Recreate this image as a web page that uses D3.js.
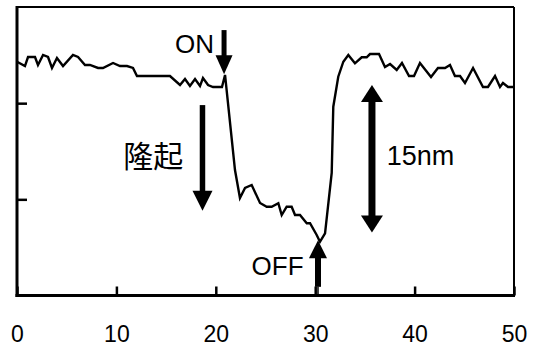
<!DOCTYPE html>
<html>
<head>
<meta charset="utf-8">
<script src="https://cdn.jsdelivr.net/npm/d3@7"></script>
<style>
  html, body { margin: 0; padding: 0; background: #fff; }
  svg { display: block; }
  text { font-family: Arial, "Liberation Sans", sans-serif; fill: #000; }
</style>
</head>
<body>
<script>
// Position along the scan (x) and height in nm (y)
const xVals = [0, 0.80, 1.11, 1.81, 2.11, 2.62, 3.12, 3.52, 4.02, 4.63, 5.63, 6.14, 6.84, 7.34, 8.15, 8.65, 9.66, 10.36, 11.07, 11.67,
  12.07, 15.39, 16.40, 16.90, 17.40, 17.91, 18.41, 18.71, 19.22, 19.72, 20.62, 20.93,
  21.93, 22.43, 22.94, 23.61, 24.45, 25.12, 25.62, 26.29, 26.63, 27.13, 27.63, 27.97, 28.47, 29.15, 29.48, 30.15, 30.48, 30.99,
  31.66, 31.82, 32.32, 32.83, 33.33, 34.00, 34.68, 35.18, 35.51, 36.42, 37.02, 37.53, 38.20, 38.73, 39.44, 39.94, 40.54,
  41.65, 42.35, 43.06, 43.56, 44.06, 44.57, 45.07, 45.88, 46.88, 47.38, 48.09, 48.59, 48.89, 49.40, 50];
const yVals = [24.31, 23.86, 24.80, 24.80, 23.97, 25.01, 24.80, 23.66, 24.70, 23.86, 25.01, 24.80, 23.97, 23.97, 23.66, 23.66, 24.18, 23.86, 23.86, 23.66,
  22.82, 22.82, 21.89, 22.51, 21.78, 22.51, 21.78, 22.62, 21.89, 21.68, 21.68, 22.93,
  13.05, 10.14, 11.18, 11.49, 9.62, 9.23, 9.23, 9.59, 8.37, 9.23, 9.23, 8.37, 8.37, 7.51, 7.51, 6.29, 5.59, 6.47,
  12.74, 19.63, 22.75, 24.31, 25.01, 24.14, 24.77, 24.77, 25.11, 25.11, 23.76, 24.07, 23.45, 24.18, 22.82, 22.82, 24.18,
  22.72, 23.66, 23.66, 23.97, 22.82, 22.82, 22.10, 23.66, 21.68, 21.68, 22.82, 21.68, 22.10, 21.68, 21.68];

const xTicks = [0, 10, 20, 30, 40, 50];
const yTicks = [10, 20];
const xDomain = [0, 50];
const yDomain = [0, 30];

// Annotations in data units
const labels = [
  { text: "ON", x: 15.9, y: 25.2, size: 26 },
  { text: "OFF", x: 23.6, y: 2.15, size: 26 },
  { text: "15nm", x: 37.2, y: 13.6, size: 27 },
  { text: "隆起", x: 10.7, y: 13.4, size: 30, cjk: true }
];
const singleArrows = [ // from (x, y0) tail to y1 tip
  { x: 20.83, y0: 27.6, y1: 23.0, w: 5, hw: 17, hl: 19 },
  { x: 30.28, y0: 0.9, y1: 5.75, w: 6, hw: 18, hl: 18 },
  { x: 18.66, y0: 19.8, y1: 8.8, w: 5.5, hw: 20, hl: 20 }
];
const doubleArrows = [
  { x: 35.71, y0: 6.55, y1: 21.9, w: 7, hw: 22, hl: 17 }
];

const W = 536, H = 347;
const m = { left: 17, right: 22, top: 7, bottom: 51.5 };

const svg = d3.select("body").append("svg").attr("width", W).attr("height", H);

const x = d3.scaleLinear().domain(xDomain).range([m.left, W - m.right]);
const y = d3.scaleLinear().domain(yDomain).range([H - m.bottom, m.top]);

// frame: thin top/right, thick left/bottom
svg.append("line").attr("x1", x(0)).attr("x2", x(50)).attr("y1", y(30)).attr("y2", y(30))
  .attr("stroke", "#000").attr("stroke-width", 2);
svg.append("line").attr("x1", x(50)).attr("x2", x(50)).attr("y1", y(30)).attr("y2", y(0))
  .attr("stroke", "#000").attr("stroke-width", 2);

// x axis
const gx = svg.append("g").attr("transform", `translate(0,${y(0)})`)
  .call(d3.axisBottom(x).tickValues(xTicks).tickFormat(d3.format("d")).tickSizeInner(-9).tickSizeOuter(0).tickPadding(30));
gx.select(".domain").remove();
gx.selectAll(".tick line").attr("stroke", "#000").attr("stroke-width", 2.5);
gx.selectAll(".tick text").attr("font-size", 23).attr("font-family", "Arial, 'Liberation Sans', sans-serif").attr("fill", "#000");

// y axis (ticks only)
const gy = svg.append("g").attr("transform", `translate(${x(0)},0)`)
  .call(d3.axisLeft(y).tickValues(yTicks).tickFormat("").tickSizeInner(-10).tickSizeOuter(0));
gy.select(".domain").remove();
gy.selectAll(".tick line").attr("stroke", "#000").attr("stroke-width", 2.5);

svg.append("line").attr("x1", x(0)).attr("x2", x(0)).attr("y1", y(30) - 1).attr("y2", y(0) + 1.5)
  .attr("stroke", "#000").attr("stroke-width", 3);
svg.append("line").attr("x1", x(0) - 1.5).attr("x2", x(50) + 1).attr("y1", y(0)).attr("y2", y(0))
  .attr("stroke", "#000").attr("stroke-width", 3);

// data line
const data = xVals.map((d, i) => [d, yVals[i]]);
svg.append("path").datum(data)
  .attr("fill", "none").attr("stroke", "#000").attr("stroke-width", 2.4).attr("stroke-linejoin", "miter")
  .attr("d", d3.line().x(d => x(d[0])).y(d => y(d[1])));

// arrows
function arrowHead(cx, tipY, dir, hw, hl) {
  const baseY = tipY - dir * hl;
  return `M${cx - hw / 2},${baseY}L${cx + hw / 2},${baseY}L${cx},${tipY}Z`;
}
singleArrows.forEach(a => {
  const cx = x(a.x), ty = y(a.y0), tip = y(a.y1);
  const dir = tip > ty ? 1 : -1;
  const baseY = tip - dir * a.hl;
  svg.append("line").attr("x1", cx).attr("x2", cx).attr("y1", ty).attr("y2", baseY + dir * 1)
    .attr("stroke", "#000").attr("stroke-width", a.w);
  svg.append("path").attr("d", arrowHead(cx, tip, dir, a.hw, a.hl)).attr("fill", "#000");
});
// thin stem from OFF arrow down to axis
svg.append("line").attr("x1", x(singleArrows[1].x)).attr("x2", x(singleArrows[1].x))
  .attr("y1", y(singleArrows[1].y0)).attr("y2", y(0)).attr("stroke", "#000").attr("stroke-width", 1.5);

doubleArrows.forEach(a => {
  const cx = x(a.x), bot = y(a.y0), top = y(a.y1);
  svg.append("line").attr("x1", cx).attr("x2", cx).attr("y1", top + a.hl - 1).attr("y2", bot - a.hl + 1)
    .attr("stroke", "#000").attr("stroke-width", a.w);
  svg.append("path").attr("d", arrowHead(cx, top, -1, a.hw, a.hl)).attr("fill", "#000");
  svg.append("path").attr("d", arrowHead(cx, bot, 1, a.hw, a.hl)).attr("fill", "#000");
});

// labels
labels.forEach(l => {
  svg.append("text").attr("x", x(l.x)).attr("y", y(l.y))
    .attr("font-size", l.size)
    .style("font-family", l.cjk ? "'Noto Sans CJK JP', 'Noto Sans CJK SC', sans-serif" : "Arial, 'Liberation Sans', sans-serif")
    .text(l.text);
});
</script>
</body>
</html>
